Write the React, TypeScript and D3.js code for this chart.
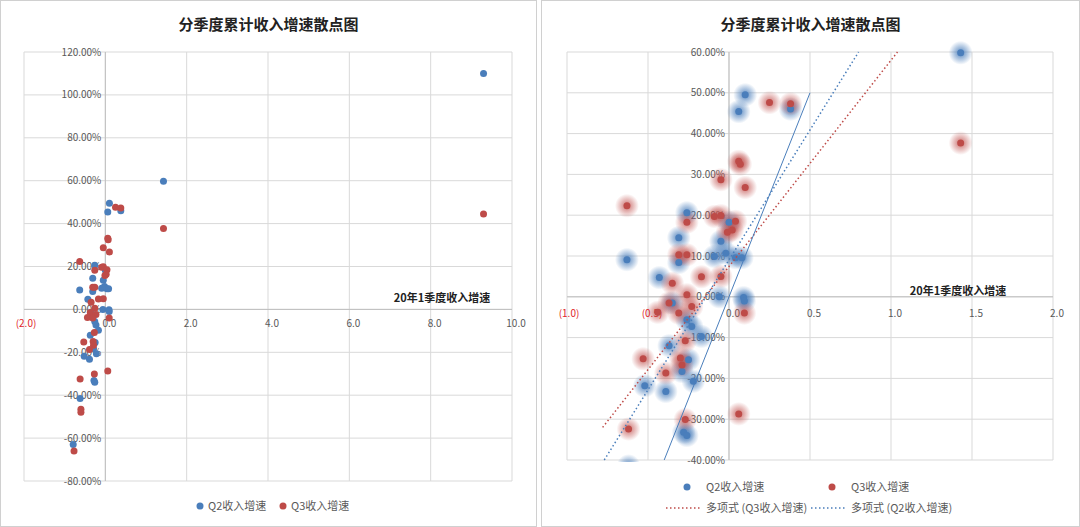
import React from "react";
import * as d3 from "d3";

const title = "分季度累计收入增速散点图";
const axisTitle = "20年1季度收入增速";
const q2X = [1.43, 9.3, 0.10, 0.06, 0.38, -0.26, -0.31, -0.63, -0.31, -0.05, -0.02, -0.09, 0, 0.04, 0.08, -0.43, -0.06, 0.09, 0.095, -0.35, -0.26, -0.23, -0.17, -0.37, -0.25, -0.29, -0.52, -0.39, -0.22, -0.28, -0.26, -0.62, -0.79];
const q2Y = [59.8, 110, 49.5, 45.4, 46, 20.6, 14.5, 9.1, 8.4, 13.6, 10.7, 9.9, 18.3, 9.6, 9.6, 4.7, 0, -0.2, -1, -1.5, -5.6, -7.3, -9.7, -12, -15.4, -18.3, -21.8, -23.2, -20.7, -33.2, -34, -41.5, -63];
const q3X = [1.43, 9.3, 0.25, 0.38, 0.06, 0.07, -0.05, 0.1, -0.63, -0.26, -0.05, -0.09, 0.04, -0.01, 0.02, -0.31, -0.26, -0.17, -0.35, -0.05, -0.26, -0.37, -0.23, -0.44, -0.31, 0.095, -0.27, -0.53, -0.30, -0.29, -0.39, -0.27, 0.06, -0.62, -0.6, -0.6, -0.77];
const q3Y = [37.7, 44.5, 47.6, 47.3, 33.2, 32.5, 28.7, 26.8, 22.3, 18.3, 19.9, 19.7, 18.5, 15.8, 16.4, 10.3, 10.3, 4.9, 3.3, 5, 0.5, -1.5, -2.4, -3.8, -4, -4, -10.8, -15.2, -15, -16.7, -18.7, -30.1, -28.7, -32.4, -46.5, -48, -66];
const trendQ3X = [-0.78, 1.04];
const trendQ3Y = [-32, 60];
const trendQ2X = [-0.77, 0.80];
const trendQ2Y = [-40, 60];
const trendLinX = [-0.4, 0.5];
const trendLinY = [-40, 50];
const leftXTicks = [-2, 0, 2, 4, 6, 8, 10];
const leftYTicks = [-80, -60, -40, -20, 0, 20, 40, 60, 80, 100, 120];
const rightXTicks = [-1, -0.5, 0, 0.5, 1, 1.5, 2];
const rightYTicks = [-40, -30, -20, -10, 0, 10, 20, 30, 40, 50, 60];
const legendQ2 = "Q2收入增速";
const legendQ3 = "Q3收入增速";
const legendT3 = "多项式 (Q3收入增速)";
const legendT2 = "多项式 (Q2收入增速)";

const BLUE = "#4a7ebb";
const RED = "#be4b48";
const FONT = "'Microsoft YaHei','Noto Sans CJK SC',sans-serif";

function fmtX(v: number) {
  return v < 0 ? `(${Math.abs(v).toFixed(1)})` : v.toFixed(1);
}

function Panel({ ox, w, x0, x1, y0, y1, xTicks, yTicks, plot, glow, titleY, axisLabelPos, xLabelDy, showTrend, id }: any) {
  const x = d3.scaleLinear().domain([x0, x1]).range([plot[0], plot[1]]);
  const y = d3.scaleLinear().domain([y0, y1]).range([plot[3], plot[2]]);
  const y0px = y(0);
  const x0px = x(0);
  const pts = (xs: number[], ys: number[]) => xs.map((v, i) => [v, ys[i]]);
  return (
    <g>
      <rect x={ox + 0.5} y={0.5} width={w - 1} height={526} fill="#fff" stroke="#d0d0d0" />
      <text x={ox + w / 2} y={titleY} textAnchor="middle" fontSize={15} fontWeight="bold" fill="#222" fontFamily={FONT}>{title}</text>
      <defs>
        <clipPath id={id}><rect x={plot[0] - 14} y={plot[2] - 14} width={plot[1] - plot[0] + 28} height={plot[3] - plot[2] + 16} /></clipPath>
        <radialGradient id={id + "b"}><stop offset="25%" stopColor={BLUE} stopOpacity={0.7} /><stop offset="100%" stopColor={BLUE} stopOpacity={0} /></radialGradient>
        <radialGradient id={id + "r"}><stop offset="25%" stopColor={RED} stopOpacity={0.6} /><stop offset="100%" stopColor={RED} stopOpacity={0} /></radialGradient>
      </defs>
      {yTicks.map((t: number) => (
        <line key={"h" + t} x1={plot[0]} x2={plot[1]} y1={y(t)} y2={y(t)} stroke="#d9d9d9" />
      ))}
      {xTicks.map((t: number) => (
        <line key={"v" + t} x1={x(t)} x2={x(t)} y1={plot[2]} y2={plot[3]} stroke="#d9d9d9" />
      ))}
      <line x1={plot[0]} x2={plot[1]} y1={y0px} y2={y0px} stroke="#bfbfbf" />
      <line x1={x0px} x2={x0px} y1={plot[2]} y2={plot[3]} stroke="#bfbfbf" />
      {yTicks.map((t: number) => (
        <text key={"yl" + t} x={x0px - 4} y={y(t) + 3.5} textAnchor="end" fontSize={10} fill="#595959" fontFamily={FONT}>{t.toFixed(2) + "%"}</text>
      ))}
      {xTicks.map((t: number) => (
        <text key={"xl" + t} x={x(t) + (t === x0 ? 2 : 4)} y={y0px + xLabelDy} textAnchor="middle" fontSize={10} fill={t < 0 ? "#e0262b" : "#595959"} fontFamily={FONT}>{fmtX(t)}</text>
      ))}
      <text x={axisLabelPos[0]} y={axisLabelPos[1]} textAnchor="middle" fontSize={11} fontWeight="bold" fill="#222" fontFamily={FONT}>{axisTitle}</text>
      <g clipPath={`url(#${id})`}>
        {glow && pts(q2X, q2Y).map((p, i) => <circle key={"gb" + i} cx={x(p[0])} cy={y(p[1])} r={12} fill={`url(#${id}b)`} />)}
        {glow && pts(q3X, q3Y).map((p, i) => <circle key={"gr" + i} cx={x(p[0])} cy={y(p[1])} r={12} fill={`url(#${id}r)`} />)}
        {pts(q2X, q2Y).filter(p => p[1] >= y0).map((p, i) => <circle key={"b" + i} cx={x(p[0])} cy={y(p[1])} r={3.5} fill={BLUE} />)}
        {pts(q3X, q3Y).filter(p => p[1] >= y0).map((p, i) => <circle key={"r" + i} cx={x(p[0])} cy={y(p[1])} r={3.5} fill={RED} />)}
        {showTrend && (
          <g>
            <line x1={x(trendQ3X[0])} y1={y(trendQ3Y[0])} x2={x(trendQ3X[1])} y2={y(trendQ3Y[1])} stroke={RED} strokeWidth={1.5} strokeDasharray="1.5 2.5" />
            <line x1={x(trendQ2X[0])} y1={y(trendQ2Y[0])} x2={x(trendQ2X[1])} y2={y(trendQ2Y[1])} stroke={BLUE} strokeWidth={1.5} strokeDasharray="1.5 2.5" />
            <line x1={x(trendLinX[0])} y1={y(trendLinY[0])} x2={x(trendLinX[1])} y2={y(trendLinY[1])} stroke={BLUE} strokeWidth={1} />
          </g>
        )}
      </g>
    </g>
  );
}

export default function App() {
  const lt = { fontSize: 11, fill: "#595959", fontFamily: FONT } as any;
  return (
    <svg width={1080} height={527} style={{ position: "absolute", left: 0, top: 0 }}>
      <rect width={1080} height={527} fill="#fff" />
      <Panel id="L" ox={0} w={537} x0={-2} x1={10} y0={-80} y1={120} xTicks={leftXTicks} yTicks={leftYTicks}
        plot={[24, 512, 52, 481]} glow={false} titleY={30} axisLabelPos={[442, 302]} xLabelDy={18} showTrend={false} />
      <Panel id="R" ox={541} w={539} x0={-1} x1={2} y0={-40} y1={60} xTicks={rightXTicks} yTicks={rightYTicks}
        plot={[567, 1053, 52, 460]} glow={true} titleY={30} axisLabelPos={[958, 295]} xLabelDy={20} showTrend={true} />
      <circle cx={200} cy={506} r={3.5} fill={BLUE} />
      <text x={208} y={510} {...lt}>{legendQ2}</text>
      <circle cx={283} cy={506} r={3.5} fill={RED} />
      <text x={291} y={510} {...lt}>{legendQ3}</text>
      <circle cx={687} cy={487} r={3.5} fill={BLUE} />
      <text x={706} y={491} {...lt}>{legendQ2}</text>
      <circle cx={832} cy={487} r={3.5} fill={RED} />
      <text x={851} y={491} {...lt}>{legendQ3}</text>
      <line x1={666} x2={700} y1={508} y2={508} stroke={RED} strokeWidth={1.5} strokeDasharray="1.5 2.5" />
      <text x={706} y={512} {...lt}>{legendT3}</text>
      <line x1={811} x2={845} y1={508} y2={508} stroke={BLUE} strokeWidth={1.5} strokeDasharray="1.5 2.5" />
      <text x={851} y={512} {...lt}>{legendT2}</text>
    </svg>
  );
}
